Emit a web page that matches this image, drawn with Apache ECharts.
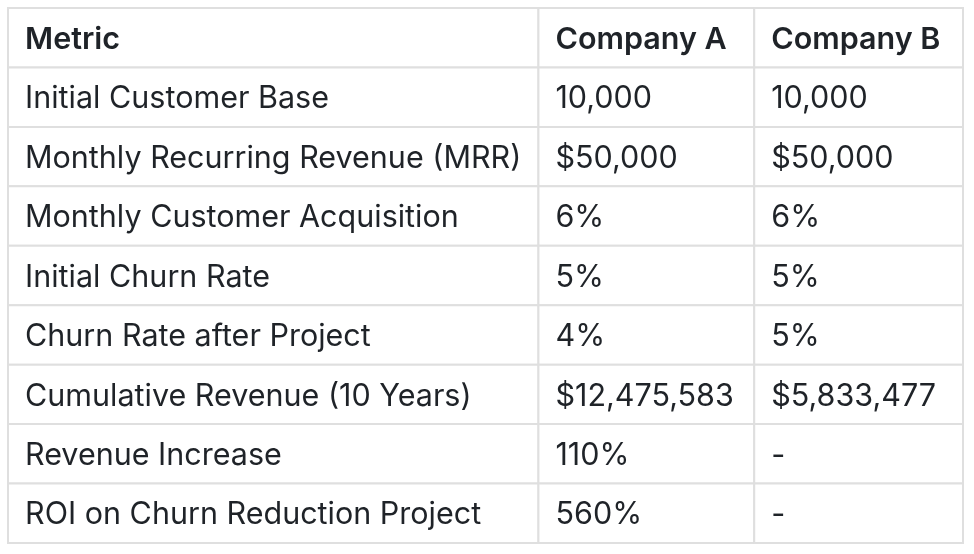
<!DOCTYPE html>
<html>
<head>
<meta charset="utf-8">
<script src="https://cdn.jsdelivr.net/npm/echarts@6/dist/echarts.min.js"></script>
<style>
  html, body { margin: 0; padding: 0; background: #fff; }
  #main { width: 974px; height: 554px; }
</style>
</head>
<body>
<div id="main"></div>
<script>
var headers = ['Metric', 'Company A', 'Company B'];
var metrics = [
    'Initial Customer Base',
    'Monthly Recurring Revenue (MRR)',
    'Monthly Customer Acquisition',
    'Initial Churn Rate',
    'Churn Rate after Project',
    'Cumulative Revenue (10 Years)',
    'Revenue Increase',
    'ROI on Churn Reduction Project'
];
var companyA = ['10,000', '$50,000', '6%', '5%', '4%', '$12,475,583', '110%', '560%'];
var companyB = ['10,000', '$50,000', '6%', '5%', '5%', '$5,833,477', '-', '-'];

// column boundaries in px along the hidden x axis (layout only)
var colEdges = [0, 531, 747, 956];

var rows = ['header'].concat(metrics);
var cells = [];
headers.forEach(function (h, c) { cells.push([c, 0, h]); });
metrics.forEach(function (m, i) {
    cells.push([0, i + 1, m]);
    cells.push([1, i + 1, companyA[i]]);
    cells.push([2, i + 1, companyB[i]]);
});

var myChart = echarts.init(document.getElementById('main'));
myChart.setOption({
    animation: false,
    grid: { left: 8, top: 8, width: 955, height: 535 },
    xAxis: { type: 'value', min: 0, max: 956, show: false },
    yAxis: { type: 'category', data: rows, inverse: true, show: false },
    series: [{
        type: 'custom',
        data: cells,
        encode: { x: -1, y: 1 },
        renderItem: function (params, api) {
            var c = api.value(0);
            var r = api.value(1);
            var left = api.coord([colEdges[c], r]);
            var right = api.coord([colEdges[c + 1], r]);
            var h = api.size([0, 1])[1];
            var top = left[1] - h / 2;
            return {
                type: 'group',
                children: [{
                    type: 'rect',
                    shape: { x: left[0], y: top, width: right[0] - left[0], height: h },
                    style: { fill: '#fff', stroke: '#dfdfdf', lineWidth: 2 }
                }, {
                    type: 'text',
                    style: {
                        x: left[0] + 17,
                        y: left[1] + 2,
                        text: api.value(2),
                        fill: '#1f2328',
                        font: (r === 0 ? '600 ' : '') + '30.5px Inter',
                        verticalAlign: 'middle',
                        align: 'left'
                    }
                }]
            };
        }
    }]
});
</script>
</body>
</html>
